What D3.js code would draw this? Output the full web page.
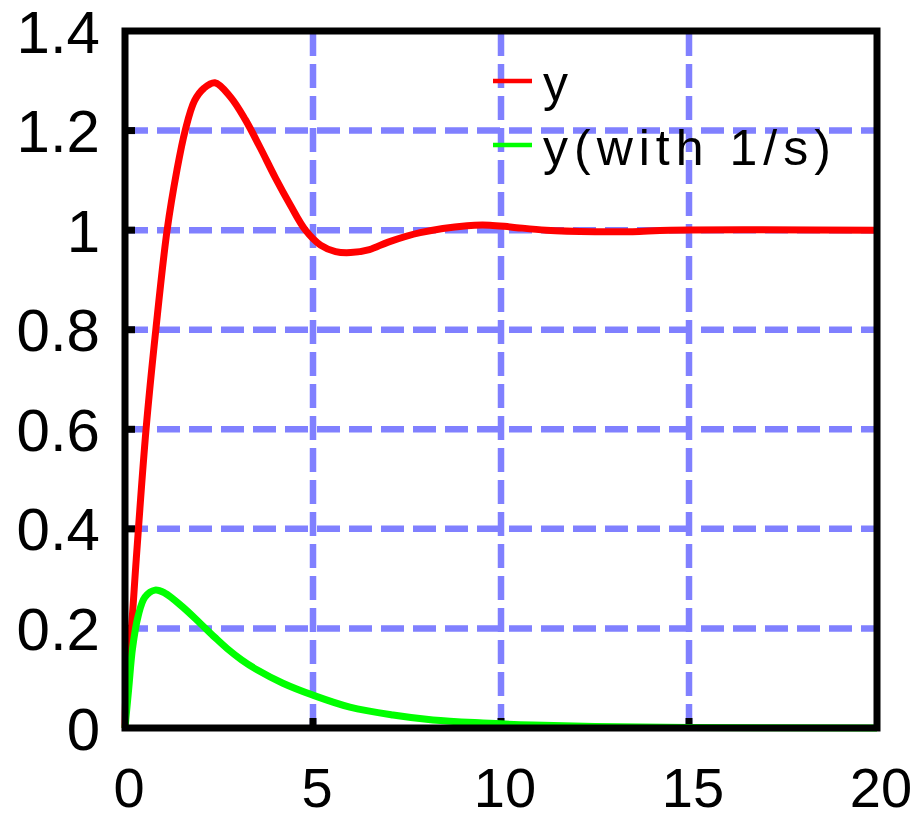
<!DOCTYPE html>
<html>
<head>
  <meta charset="utf-8">
  <title>step response</title>
  <script src="https://d3js.org/d3.v7.min.js"></script>
  <style>
    body { margin: 0; background: #fff; }
    text { font-family: 'Liberation Sans', Arial, sans-serif; fill: #000; }
  </style>
</head>
<body>
  <div id="chart"></div>
<script>
  // values
  const tRed = [0, 0.04, 0.17, 0.3, 0.56, 0.82, 1.12, 1.38, 1.6, 1.85, 2.1, 2.39, 2.8, 3.2, 3.6, 4.0, 4.4, 4.8, 5.2, 5.6, 6.0, 6.5, 7.0, 7.85, 9.1, 9.7, 10.3, 11.2, 12.5, 13.5, 14.5, 20];
  const yRed = [0, 0.1, 0.2, 0.34, 0.6, 0.8, 1.0, 1.12, 1.2, 1.26, 1.285, 1.296, 1.268, 1.222, 1.165, 1.105, 1.05, 1.0, 0.97, 0.957, 0.955, 0.961, 0.976, 0.995, 1.009, 1.01, 1.006, 1.0, 0.997, 0.997, 1.0, 1.0];

  const tGreen = [0, 0.1, 0.2, 0.35, 0.53, 0.8, 1.06, 1.52, 1.99, 2.39, 2.71, 3.1, 3.51, 4.2, 5.0, 5.98, 7.13, 8.19, 9.52, 10.85, 12.5, 15, 20];
  const yGreen = [0, 0.08, 0.16, 0.225, 0.263, 0.277, 0.271, 0.244, 0.211, 0.182, 0.16, 0.137, 0.117, 0.09, 0.066, 0.042, 0.026, 0.016, 0.01, 0.006, 0.003, 0.001, 0];

  const xTicks = [0, 5, 10, 15, 20];
  const yTicks = [0, 0.2, 0.4, 0.6, 0.8, 1, 1.2, 1.4];
  const yTickLabels = ["0", "0.2", "0.4", "0.6", "0.8", "1", "1.2", "1.4"];
  const seriesNames = ["y", "y(with 1/s)"];
  const seriesColors = ["#ff0000", "#00ff00"];

  const W = 920, H = 820;
  const plot = { left: 125, right: 877, top: 31, bottom: 728 };
  const GRID = "#8080ff";

  const x = d3.scaleLinear().domain([0, 20]).range([plot.left, plot.right]);
  const y = d3.scaleLinear().domain([0, 1.4]).range([plot.bottom, plot.top]);

  const svg = d3.select("#chart").append("svg")
    .attr("width", W)
    .attr("height", H);

  svg.append("rect").attr("width", W).attr("height", H).attr("fill", "#fff");

  // dashed grid
  const inner = yTicks.filter(v => v > 0 && v < 1.4);
  const innerX = xTicks.filter(v => v > 0 && v < 20);

  svg.selectAll(".hgrid").data(inner).enter().append("line")
    .attr("x1", plot.left).attr("x2", plot.right)
    .attr("y1", d => y(d)).attr("y2", d => y(d))
    .attr("stroke", GRID).attr("stroke-width", 6.5)
    .attr("stroke-dasharray", "23,9");

  svg.selectAll(".vgrid").data(innerX).enter().append("line")
    .attr("x1", d => x(d)).attr("x2", d => x(d))
    .attr("y1", plot.bottom).attr("y2", plot.top)
    .attr("stroke", GRID).attr("stroke-width", 6.5)
    .attr("stroke-dasharray", "24,8");

  // small inward ticks
  svg.selectAll(".ytick").data(inner).enter().append("line")
    .attr("x1", plot.left).attr("x2", plot.left + 10)
    .attr("y1", d => y(d)).attr("y2", d => y(d))
    .attr("stroke", "#000").attr("stroke-width", 7);

  svg.selectAll(".xtick").data(innerX).enter().append("line")
    .attr("x1", d => x(d)).attr("x2", d => x(d))
    .attr("y1", plot.bottom).attr("y2", plot.bottom - 10)
    .attr("stroke", "#000").attr("stroke-width", 7);

  // curves
  const line = d3.line()
    .x(d => x(d[0]))
    .y(d => y(d[1]))
    .curve(d3.curveCatmullRom.alpha(0.5));

  const redData = tRed.map((t, i) => [t, yRed[i]]);
  const greenData = tGreen.map((t, i) => [t, yGreen[i]]);

  svg.append("path").datum(redData)
    .attr("d", line)
    .attr("fill", "none")
    .attr("stroke", seriesColors[0])
    .attr("stroke-width", 7)
    .attr("stroke-linejoin", "round");

  svg.append("path").datum(greenData)
    .attr("d", line)
    .attr("fill", "none")
    .attr("stroke", seriesColors[1])
    .attr("stroke-width", 7)
    .attr("stroke-linejoin", "round");

  // frame
  svg.append("rect")
    .attr("x", plot.left).attr("y", plot.top)
    .attr("width", plot.right - plot.left)
    .attr("height", plot.bottom - plot.top)
    .attr("fill", "none")
    .attr("stroke", "#000")
    .attr("stroke-width", 7);

  // tick labels
  svg.selectAll(".ylab").data(yTicks).enter().append("text")
    .attr("x", 100)
    .attr("y", d => y(d))
    .attr("dy", "0.36em")
    .attr("text-anchor", "end")
    .style("font-size", "60px")
    .text((d, i) => yTickLabels[i]);

  svg.selectAll(".xlab").data(xTicks).enter().append("text")
    .attr("x", d => x(d) + 4)
    .attr("y", 807)
    .attr("text-anchor", "middle")
    .style("font-size", "56px")
    .text(d => d);

  // legend
  const legend = svg.append("g");
  seriesNames.forEach(function (name, i) {
    const ly = 81 + i * 64;
    legend.append("line")
      .attr("x1", 493).attr("x2", 532)
      .attr("y1", ly).attr("y2", ly)
      .attr("stroke", seriesColors[i])
      .attr("stroke-width", 4.5);
    legend.append("text")
      .attr("x", 543)
      .attr("y", ly + 20)
      .style("font-size", "50px")
      .style("letter-spacing", "6px")
      .text(name);
  });
</script>
</body>
</html>
